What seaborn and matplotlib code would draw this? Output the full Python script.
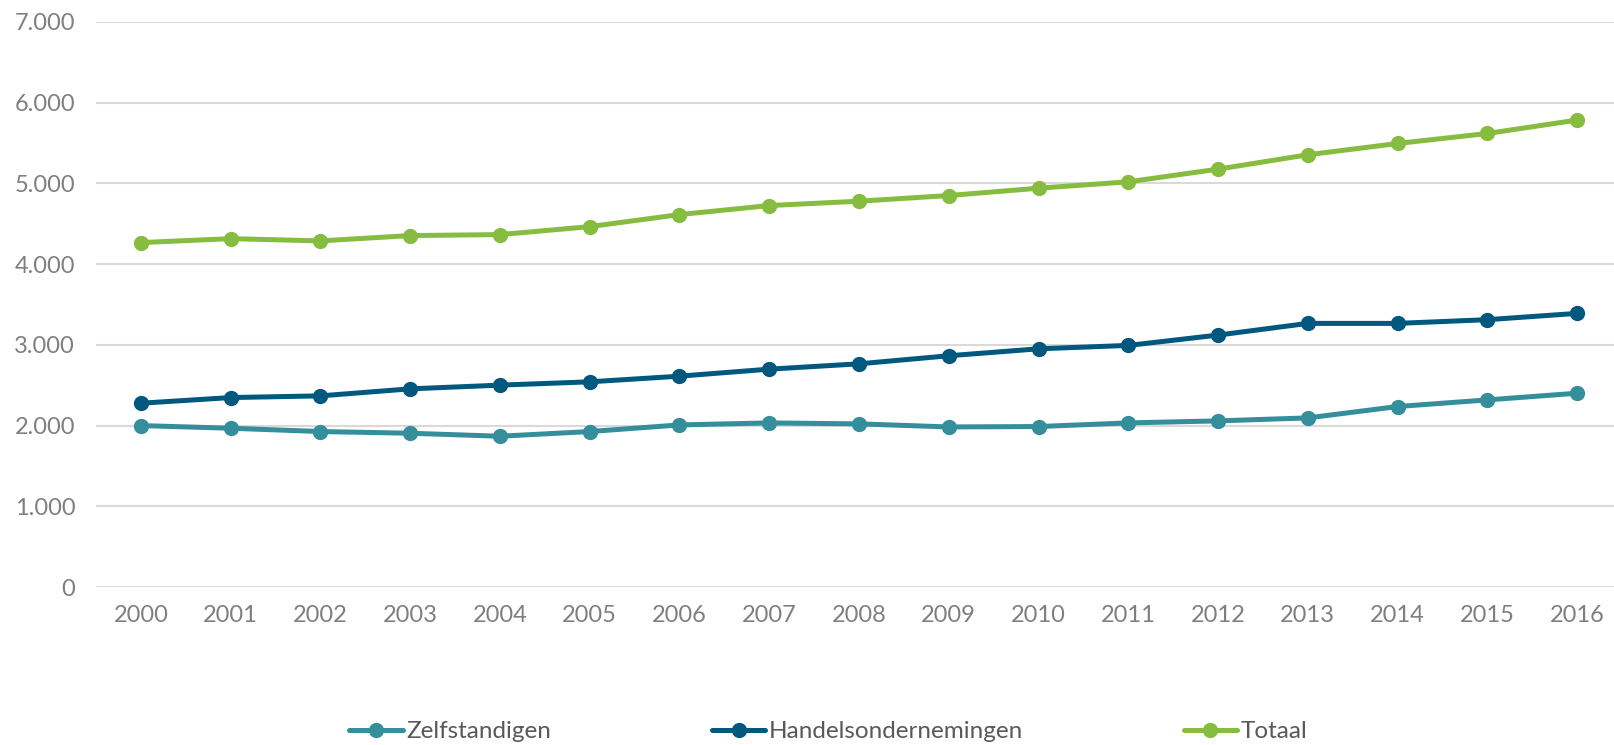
import pandas as pd
import seaborn as sns
import matplotlib.pyplot as plt
from matplotlib.ticker import FuncFormatter

# waarden
jaren = list(range(2000, 2017))
zelfstandigen = [2000, 1967, 1926, 1905, 1868, 1926, 2008, 2033, 2021, 1983, 1988,
                 2033, 2058, 2095, 2236, 2318, 2401]
handelsondernemingen = [2277, 2347, 2368, 2455, 2501, 2542, 2612, 2699, 2765, 2865, 2951,
                        2993, 3121, 3266, 3266, 3312, 3390]
totaal = [4267, 4316, 4288, 4354, 4366, 4465, 4614, 4726, 4780, 4850, 4941,
          5020, 5177, 5355, 5495, 5619, 5785]

reeksen = ['Zelfstandigen', 'Handelsondernemingen', 'Totaal']
kleuren = ['#348e9b', '#00587f', '#86bd40']

df = pd.DataFrame({'jaar': jaren * 3,
                   'waarde': zelfstandigen + handelsondernemingen + totaal,
                   'reeks': [r for r in reeksen for _ in jaren]})

sns.set_style('white')
plt.rcParams['font.family'] = ['Lato', 'DejaVu Sans']

fig = plt.figure(figsize=(16.15, 7.45), dpi=100)
ax = fig.add_axes([96 / 1615, 158 / 745, 1526 / 1615, 565 / 745])

sns.lineplot(data=df, x='jaar', y='waarde', hue='reeks', hue_order=reeksen,
             palette=kleuren, marker='o', markersize=11, markeredgewidth=0,
             linewidth=3.6, ax=ax, zorder=3)

ax.set_xlim(1999.5, 2016.5)
ax.set_ylim(0, 7000)
ax.set_xticks(jaren)
ax.set_yticks(range(0, 7001, 1000))
ax.yaxis.set_major_formatter(FuncFormatter(lambda v, p: f'{int(v):,}'.replace(',', '.')))
ax.grid(axis='y', color='#d9d9d9', linewidth=1.5)
ax.grid(axis='x', visible=False)
for s in ax.spines.values():
    s.set_visible(False)
ax.tick_params(axis='both', length=0, labelsize=17, labelcolor='#7f7f7f')
ax.tick_params(axis='y', pad=15)
ax.tick_params(axis='x', pad=13)
ax.set_xlabel('')
ax.set_ylabel('')

ax.get_legend().remove()
handles, labels = ax.get_legend_handles_labels()
leg = fig.legend(handles, labels, loc='center', bbox_to_anchor=(0.513, 0.018), ncol=3,
                 frameon=False, fontsize=17.5, handlelength=2.2, handletextpad=0.15,
                 columnspacing=6.6)
for t in leg.get_texts():
    t.set_color('#595959')

fig.savefig('out.png', dpi=100)
